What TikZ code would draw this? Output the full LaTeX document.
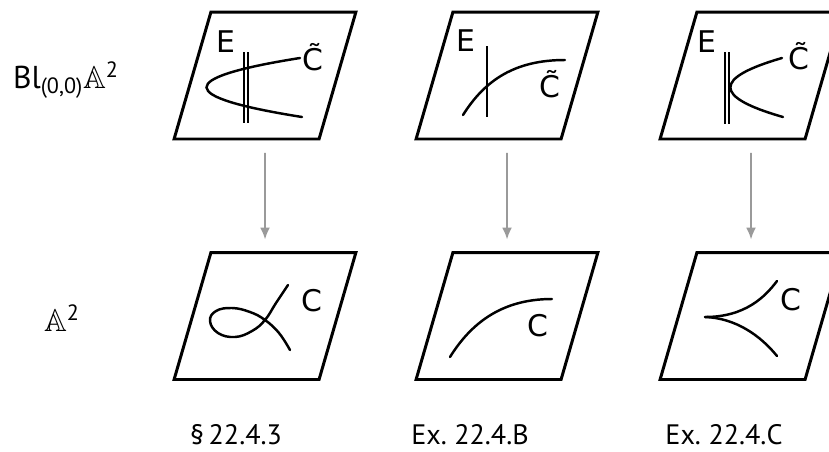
\documentclass[tikz,border=0pt]{standalone}
\usepackage{fontspec}
\setmainfont{PT Sans}
\newfontfamily\curvefont{DejaVu Sans}
\usepackage{amssymb}
\usetikzlibrary{arrows.meta,positioning}
\definecolor{maparrow}{HTML}{9A9A9A}
\tikzset{
  plane/.style={rectangle,xslant=0.29,transform shape,minimum width=2.9cm,
    minimum height=2.54cm,draw=black,line width=1.7pt,inner sep=0pt},
  crv/.style={line width=1.4pt,line cap=round},
  exc/.style={line width=1.1pt,double,double distance=0.9pt},
  tag/.style={font=\curvefont\fontsize{17}{20}\selectfont,inner sep=0pt},
  sect/.style={font=\fontsize{16}{19}\selectfont,inner sep=0pt},
  side/.style={font=\fontsize{18}{22}\selectfont,inner sep=0pt},
  blow/.style={-{Latex[length=0.24cm,width=0.2cm]},line width=1.1pt,maparrow,
    shorten <=0.25cm,shorten >=0.23cm},
}
\begin{document}
\begin{tikzpicture}[x=0.02cm,y=-0.02cm]
  \useasboundingbox (0,0) rectangle (829,451);
  % the surfaces
  \node[plane] (blA) at (265,75.5) {};
  \node[plane] (blB) at (507,75.5) {};
  \node[plane] (blC) at (751,75.5) {};
  \node[plane] (affA) at (265,316) {};
  \node[plane] (affB) at (507,316) {};
  \node[plane] (affC) at (751,316) {};
  \draw[blow] (blA) -- (affA);
  \draw[blow] (blB) -- (affB);
  \draw[blow] (blC) -- (affC);

  \node[side] (blLbl) at (66,80) {Bl\textsubscript{(0,0)}$\mathbb{A}$\textsuperscript{2}};
  \node[side] (affLbl) at (62,318) {$\mathbb{A}$\textsuperscript{2}};

  % node: strict transform cuts E twice
  \draw[exc] (246,52) -- (246,123);
  \draw[crv] (300,58) .. controls (174,78) and (176,97) .. (302,117);
  \node[tag] (eA) at (226,42) {E};
  \node[tag] (ctA) at (313,57) {C^^^^0303};
  % smooth curve
  \draw[line width=1.4pt] (487,46) -- (487,117);
  \draw[crv] (463,115) .. controls (485,80) and (515,60) .. (565,60);
  \node[tag] (eB) at (466,41) {E};
  \node[tag] (ctB) at (550,84) {C^^^^0303};
  % cusp: tangent to E
  \draw[exc] (727,52) -- (727,124);
  \draw[crv] (782,58) .. controls (713,78) and (713,97) .. (783,117);
  \node[tag] (eC) at (707,42) {E};
  \node[tag] (ctC) at (799,56) {C^^^^0303};

  % the plane curves
  \draw[crv] plot[smooth,tension=0.7] coordinates {(288,285) (276,303) (265,320)
    (252,331) (235,337) (218,333) (210,321) (216,311) (232,308) (250,312)
    (265,320) (279,333) (290,350)};
  \node[tag] (cA) at (312,301) {C};
  \draw[crv] (450,357) .. controls (470,325) and (500,299) .. (552,299);
  \node[tag] (cB) at (538,326) {C};
  \draw[crv] (705,317) .. controls (745,317) and (765,297) .. (777,281);
  \draw[crv] (705,317) .. controls (735,318) and (760,335) .. (777,356);
  \node[tag] (cC) at (791,300) {C};

  \node[sect] (refA) at (236,435) {\S\,22.4.3};
  \node[sect] (refB) at (470,435) {Ex.\ 22.4.B};
  \node[sect] (refC) at (724,435) {Ex.\ 22.4.C};
\end{tikzpicture}
\end{document}
